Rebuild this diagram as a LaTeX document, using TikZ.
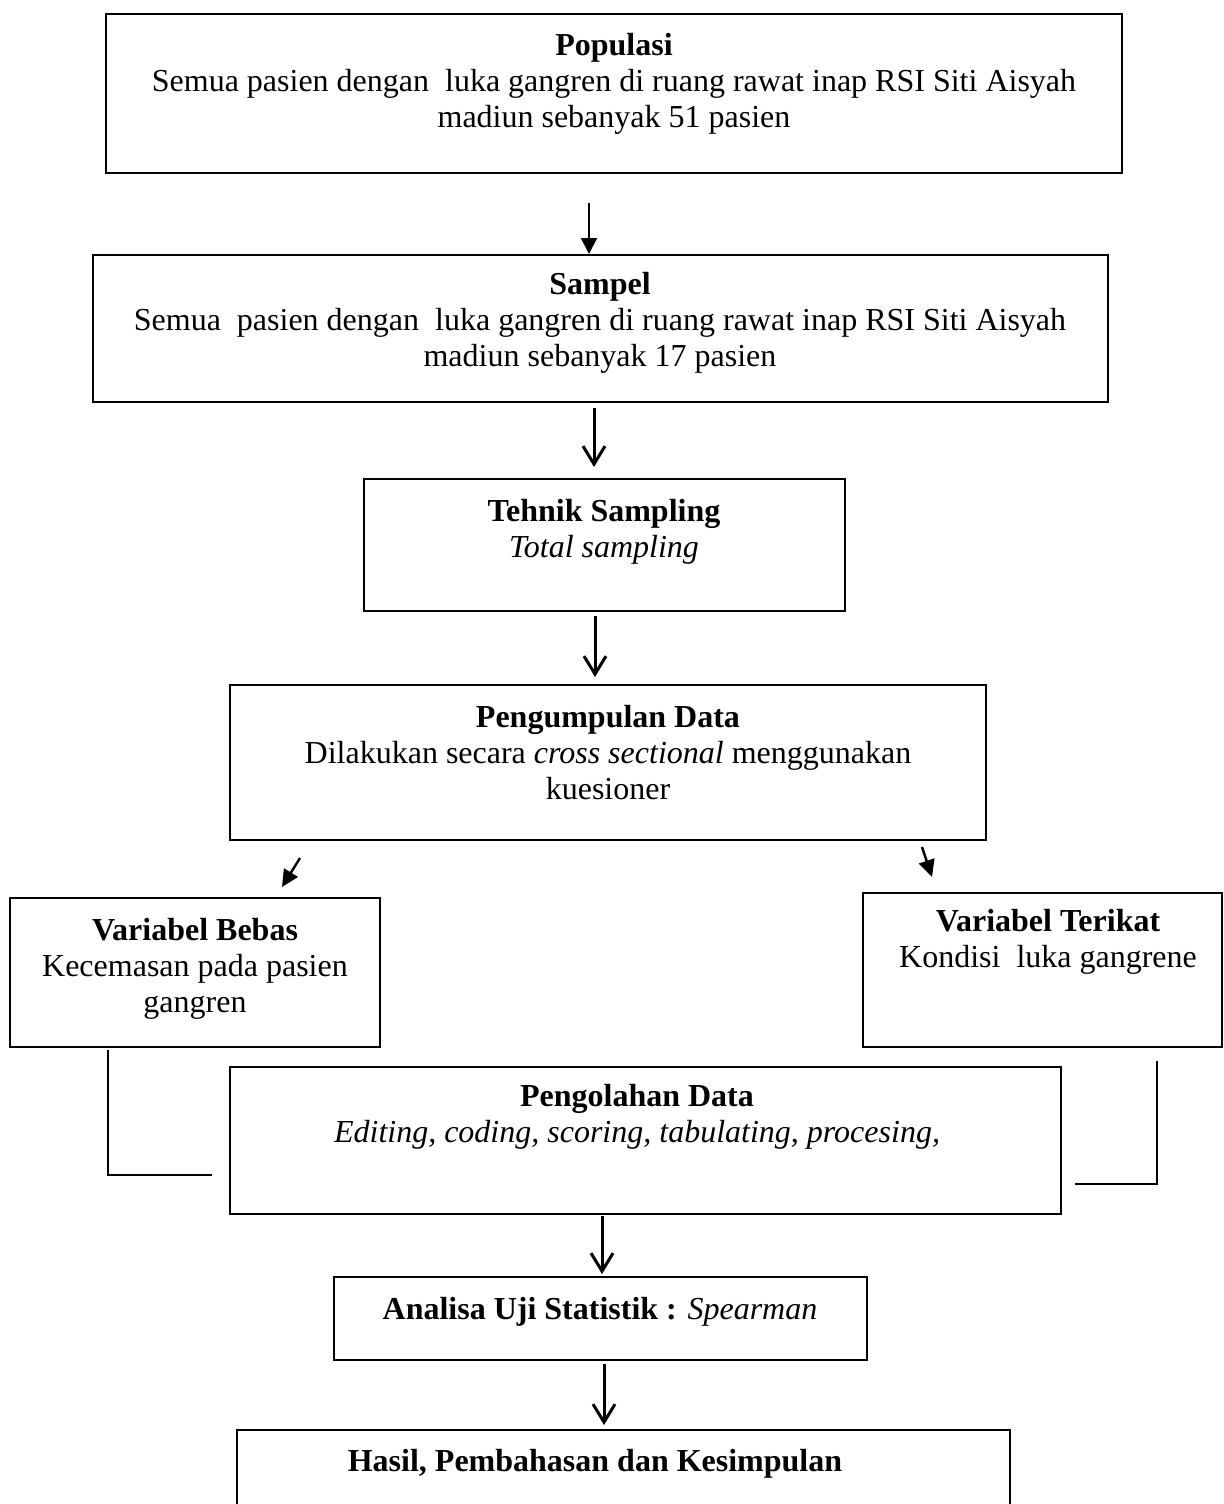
\documentclass[tikz,border=0pt]{standalone}
\usepackage{fontspec}
\setmainfont{Liberation Serif}
\usetikzlibrary{arrows.meta}
\begin{document}
\begin{tikzpicture}[x=0.5pt,y=-0.5pt,
  box/.style={draw, line width=1pt, inner sep=0pt},
  txt/.style={align=center, inner sep=0pt, font=\fontsize{16pt}{18pt}\selectfont},
  farrow/.style={line width=1pt, -{Triangle[length=8pt,width=8pt]}},
  darrow/.style={line width=1.2pt, -{Triangle[length=8.5pt,width=8pt]}},
  varrow/.style={line width=1.5pt, -{Straight Barb[length=9pt,width=11pt]}},
  conn/.style={line width=1pt}]
\useasboundingbox (0,0) rectangle (1223,1504);
% boxes
\node[box, minimum width=508pt, minimum height=79.5pt] (pop) at (614,93.5) {};
\node[box, minimum width=507.5pt, minimum height=73.5pt] (samp) at (600.5,328.5) {};
\node[box, minimum width=240.5pt, minimum height=66pt] (tek) at (604.5,545) {};
\node[box, minimum width=378pt, minimum height=77.5pt] (peng) at (608,762.5) {};
\node[box, minimum width=185pt, minimum height=74.5pt] (beb) at (195,972.5) {};
\node[box, minimum width=179.5pt, minimum height=77pt] (ter) at (1042.5,970) {};
\node[box, minimum width=415.5pt, minimum height=73.5pt] (olah) at (645.5,1140.5) {};
\node[box, minimum width=266.5pt, minimum height=41.5pt] (ana) at (600.5,1318.5) {};
\node[box, minimum width=386.5pt, minimum height=50pt] (has) at (623.5,1480) {};
% texts
\node[txt] (tpop) at (614,84) {\textbf{Populasi}\\Semua pasien dengan\ \ luka gangren di ruang rawat inap RSI Siti Aisyah\\madiun sebanyak 51 pasien};
\node[txt] (tsamp) at (600,323) {\textbf{Sampel}\\Semua\ \ pasien dengan\ \ luka gangren di ruang rawat inap RSI Siti Aisyah\\madiun sebanyak 17 pasien};
\node[txt] (ttek) at (604,532) {\textbf{Tehnik Sampling}\\\textit{Total sampling}};
\node[txt] (tpeng) at (608,753) {\textbf{Pengumpulan Data}\\Dilakukan secara \textit{cross sectional} menggunakan\\kuesioner};
\node[txt] (tbeb) at (195,969) {\textbf{Variabel Bebas}\\Kecemasan pada pasien\\gangren};
\node[txt] (tter) at (1048,942) {\textbf{Variabel Terikat}\\Kondisi\ \ luka gangrene};
\node[txt] (tolah) at (637,1117) {\textbf{Pengolahan Data}\\\textit{Editing, coding, scoring, tabulating, procesing,}};
\node[txt] (tana) at (600,1312) {\textbf{Analisa Uji Statistik :} \textit{Spearman}};
\node[txt] (thas) at (595,1464) {\textbf{Hasil, Pembahasan dan Kesimpulan}};
% arrows
\coordinate (a1s) at (589,203);
\draw[farrow] (a1s) -- (a1s |- samp.north);
\coordinate (a2s) at (594,408);
\draw[varrow] (a2s) -- ([yshift=5.5pt]a2s |- tek.north);
\coordinate (a3s) at (595,616);
\draw[varrow] (a3s) -- ([yshift=3.5pt]a3s |- peng.north);
\coordinate (a4s) at (602,1216);
\draw[varrow] (a4s) -- ([yshift=1pt]a4s |- ana.north);
\coordinate (a5s) at (604,1364);
\draw[varrow] (a5s) -- ([yshift=2pt]a5s |- has.north);
\coordinate (dls) at (300,858);
\coordinate (dle) at (282,887);
\draw[darrow] (dls) -- (dle);
\coordinate (drs) at (922,847);
\coordinate (dre) at (932,877);
\draw[darrow] (drs) -- (dre);
% side connectors
\coordinate (lc) at (108,1050);
\coordinate (lce) at (212,1175);
\draw[conn] (lc) |- (lce);
\coordinate (rc) at (1157,1061);
\coordinate (rce) at (1075,1184);
\draw[conn] (rc) |- (rce);
\end{tikzpicture}
\end{document}
